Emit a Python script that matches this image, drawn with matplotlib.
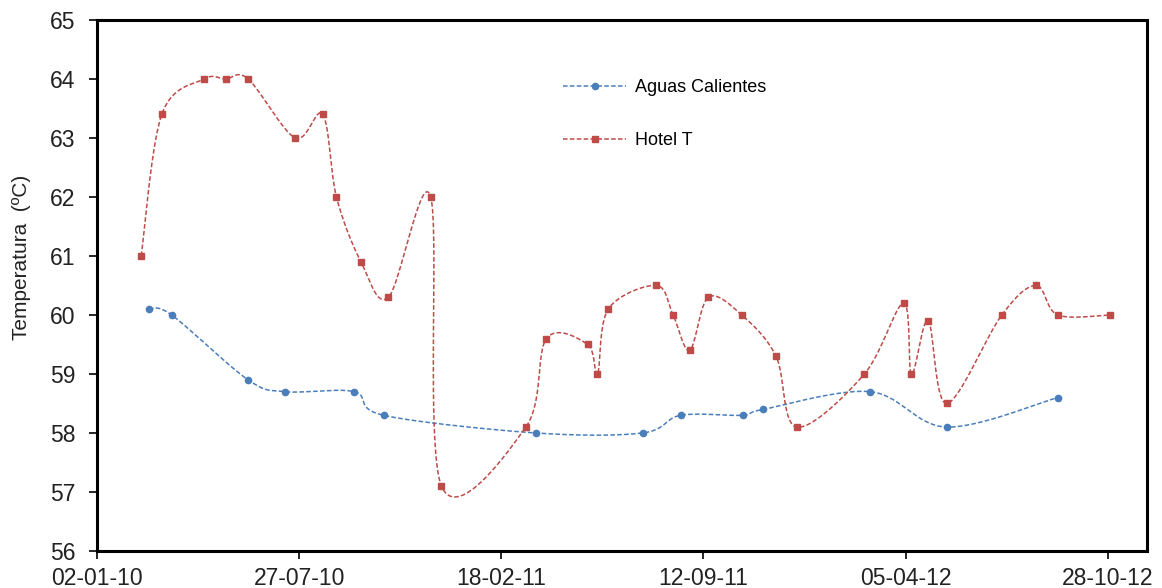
import numpy as np
import pandas as pd
import matplotlib
matplotlib.use('Agg')
import matplotlib.pyplot as plt
import matplotlib.dates as mdates

plt.rcParams['font.family'] = ['Liberation Sans', 'DejaVu Sans']

# Aguas Calientes
fechas_ac = ['2010-02-24', '2010-03-19', '2010-06-05', '2010-07-13', '2010-09-21',
             '2010-10-21', '2011-03-25', '2011-07-12', '2011-08-20', '2011-10-22',
             '2011-11-12', '2012-02-29', '2012-05-17', '2012-09-07']
temp_ac = [60.1, 60.0, 58.9, 58.7, 58.7, 58.3, 58.0, 58.0, 58.3, 58.3, 58.4, 58.7, 58.1, 58.6]

# Hotel T
fechas_ht = ['2010-02-16', '2010-03-09', '2010-04-21', '2010-05-13', '2010-06-05',
             '2010-07-23', '2010-08-20', '2010-09-03', '2010-09-28', '2010-10-26',
             '2010-12-08', '2010-12-19', '2011-03-15', '2011-04-05', '2011-05-17',
             '2011-05-27', '2011-06-07', '2011-07-26', '2011-08-12', '2011-08-29',
             '2011-09-17', '2011-10-21', '2011-11-25', '2011-12-16', '2012-02-23',
             '2012-04-03', '2012-04-11', '2012-04-28', '2012-05-17', '2012-07-12',
             '2012-08-16', '2012-09-07', '2012-10-30']
temp_ht = [61.0, 63.4, 64.0, 64.0, 64.0, 63.0, 63.4, 62.0, 60.9, 60.3, 62.0, 57.1,
           58.1, 59.6, 59.5, 59.0, 60.1, 60.5, 60.0, 59.4, 60.3, 60.0, 59.3, 58.1,
           59.0, 60.2, 59.0, 59.9, 58.5, 60.0, 60.5, 60.0, 60.0]

inicio = pd.Timestamp('2010-01-02')
fin = inicio + pd.Timedelta(days=1070)
marcas = pd.date_range(inicio, periods=6, freq='206D')


def suavizar(x, y, n=40):
    # curva suavizada tipo Excel (Bezier Catmull-Rom)
    p = np.column_stack([x, y])
    q = np.vstack([p[0], p, p[-1]])
    t = np.linspace(0, 1, n)[:, None]
    tramos = []
    for i in range(len(p) - 1):
        p0, p1, p2, p3 = q[i], q[i + 1], q[i + 2], q[i + 3]
        c1 = p1 + (p2 - p0) / 6
        c2 = p2 - (p3 - p1) / 6
        s = (1 - t)**3 * p1 + 3 * (1 - t)**2 * t * c1 + 3 * (1 - t) * t**2 * c2 + t**3 * p2
        tramos.append(s[:-1] if i < len(p) - 2 else s)
    c = np.vstack(tramos)
    idx = [i * (n - 1) for i in range(len(p))]
    return c[:, 0], c[:, 1], idx


fig = plt.figure(figsize=(11.62, 5.88), dpi=100)
ax = fig.add_axes([0.0835, 0.063, 0.9036, 0.903])

azul = '#4a7ebb'
rojo = '#be4b48'

x_ac = mdates.date2num(pd.to_datetime(fechas_ac))
sx, sy, idx = suavizar(x_ac, temp_ac)
ax.plot(sx, sy, color=azul, lw=1.1, dashes=(3, 1.5), marker='o', ms=4.5,
        markevery=idx, label='Aguas Calientes')

x_ht = mdates.date2num(pd.to_datetime(fechas_ht))
sx, sy, idx = suavizar(x_ht, temp_ht)
ax.plot(sx, sy, color=rojo, lw=1.1, dashes=(3, 1.5), marker='s', ms=5,
        markevery=idx, label='Hotel T')

ax.set_xlim(mdates.date2num(inicio), mdates.date2num(fin))
ax.set_ylim(56, 65)
ax.set_yticks(range(56, 66))
ax.set_xticks(mdates.date2num(marcas))
ax.set_xticklabels([d.strftime('%d-%m-%y') for d in marcas])

for s in ax.spines.values():
    s.set_linewidth(2.2)
    s.set_color('black')
ax.tick_params(direction='out', length=5.5, width=1.2, labelsize=16.5, colors='black',
               labelcolor='#222222')
ax.tick_params(axis='y', pad=10)
ax.tick_params(axis='x', pad=6)

ax.set_ylabel('Temperatura  (ºC)', fontsize=15, color='#222222')
ax.yaxis.set_label_coords(-0.0629, 0.552)

ax.legend(loc='upper left', bbox_to_anchor=(0.444, 0.889), frameon=False,
          fontsize=13, numpoints=1, handlelength=3.5, handletextpad=0.45,
          labelspacing=2.0, borderpad=0, borderaxespad=0)

plt.savefig('out.png', dpi=100)
